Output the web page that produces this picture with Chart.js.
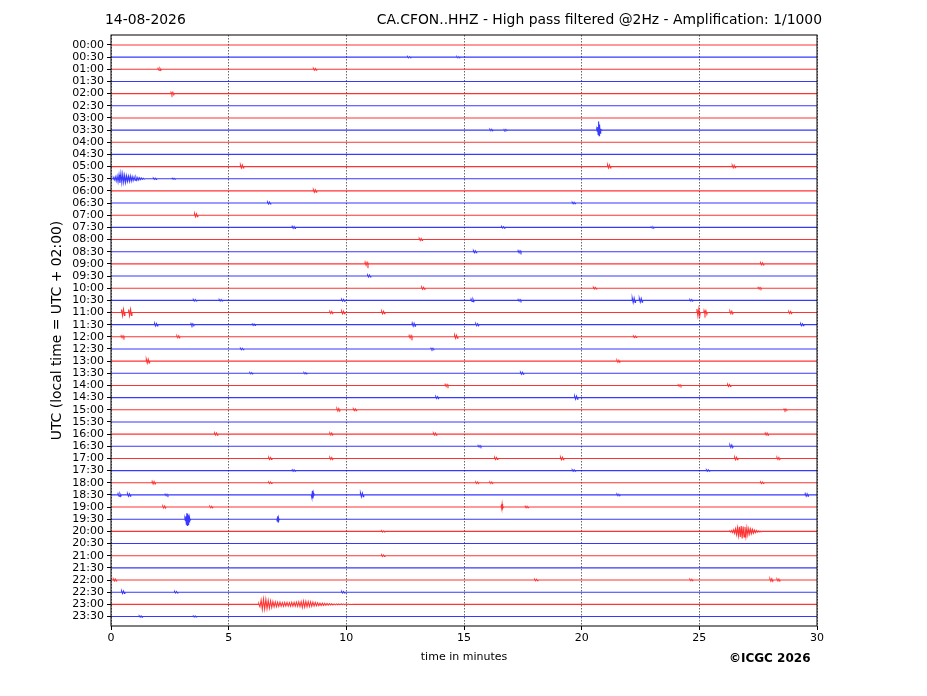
<!DOCTYPE html>
<html>
<head>
<meta charset="utf-8">
<script src="https://cdn.jsdelivr.net/npm/chart.js@4.4.1/dist/chart.umd.min.js"></script>
<style>
  body { margin: 0; background: #fff; }
  #wrap { width: 927px; height: 696px; }
</style>
</head>
<body>
<div id="wrap"><canvas id="heli" width="927" height="696"></canvas></div>
<script>
// etiquetas de filas (cada traza = 30 min)
const timeLabels = [
  '00:00','00:30','01:00','01:30','02:00','02:30','03:00','03:30','04:00','04:30',
  '05:00','05:30','06:00','06:30','07:00','07:30','08:00','08:30','09:00','09:30',
  '10:00','10:30','11:00','11:30','12:00','12:30','13:00','13:30','14:00','14:30',
  '15:00','15:30','16:00','16:30','17:00','17:30','18:00','18:30','19:00','19:30',
  '20:00','20:30','21:00','21:30','22:00','22:30','23:00','23:30'
];
const minuteTicks = [0, 5, 10, 15, 20, 25, 30];

// eventos grandes: fila, minuto inicial, paso (min), desplazamientos (en filas, + = arriba)
const quake0530 = [11, 0.1, 0.04, [0.08,-0.1,0.15,-0.18,0.22,-0.25,0.32,-0.35,0.42,-0.32,0.38,-0.3,0.28,-0.3,0.24,-0.22,0.2,-0.2,0.22,-0.18,0.17,-0.15,0.14,-0.12,0.12,-0.12,0.1,-0.1,0.08,-0.07,0.06,-0.05,0.04,-0.03]];
const spike0330 = [7, 20.64, 0.02, [0.05,-0.1,0.25,-0.35,0.7,-0.47,0.45,-0.25,0.12,-0.06,0.03]];
const spike1930a = [39, 3.14, 0.02, [0.05,-0.12,0.25,-0.4,0.5,-0.52,0.46,-0.42,0.32,-0.22,0.12,-0.05]];
const spike1930b = [39, 7.04, 0.02, [0.06,-0.15,0.25,-0.22,0.1,-0.04]];
const spike1830 = [37, 8.52, 0.02, [0.06,-0.18,0.33,-0.3,0.15,-0.05]];
const spike1900 = [38, 16.58, 0.02, [0.08,-0.1,0.26,-0.08,0.04]];
const quake2000 = [40, 26.3, 0.04, [0.03,-0.05,0.08,-0.1,0.12,-0.15,0.2,-0.25,0.3,-0.35,0.38,-0.45,0.44,-0.58,0.4,-0.45,0.36,-0.4,0.3,-0.28,0.22,-0.2,0.18,-0.17,0.15,-0.14,0.1,-0.1,0.08,-0.06,0.05,-0.04,0.03,-0.02]];
const quake2300 = [46, 6.28, 0.05, [
  0.05,-0.2,0.35,-0.4,0.42,-0.38,0.4,-0.35,0.32,-0.3,0.28,-0.25,
  0.22,-0.2,0.2,-0.18,0.17,-0.16,0.18,-0.15,0.14,-0.15,0.15,-0.13,0.16,-0.14,0.14,-0.15,0.16,-0.14,
  0.17,-0.15,0.18,-0.16,0.2,-0.18,0.22,-0.25,0.26,-0.22,0.25,-0.2,0.22,-0.18,0.2,-0.16,0.18,-0.14,0.15,-0.12,
  0.12,-0.1,0.1,-0.1,0.09,-0.08,0.08,-0.07,0.07,-0.06,0.06,-0.05,0.05,-0.05,0.04,-0.04,0.04,-0.03,0.03,-0.03,
  0.03,-0.02,0.02,-0.02,0.02,-0.02,0.02,-0.01,0.01,-0.01]];
const bigEvents = [quake0530, spike0330, spike1930a, spike1930b, spike1830, spike1900, quake2000, quake2300];

// pequeños impulsos: [fila, minuto, amplitud]
const smallBumps = [
  [1,12.6,0.05],[1,14.7,0.05],[2,2.0,0.08],[2,8.6,0.07],[4,2.55,0.1],[7,16.1,0.06],[7,16.7,0.05],
  [10,5.5,0.12],[10,21.1,0.12],[10,26.4,0.1],[11,1.8,0.05],[11,2.6,0.04],[12,8.6,0.1],[13,6.65,0.08],[13,19.6,0.06],
  [14,3.55,0.12],[15,7.7,0.08],[15,16.6,0.06],[15,22.95,0.05],[16,13.1,0.08],[17,15.4,0.08],[17,17.3,0.08],
  [18,10.8,0.12],[18,27.6,0.08],[19,10.9,0.08],[20,13.2,0.08],[20,20.5,0.06],[20,27.5,0.06],
  [21,3.5,0.06],[21,4.6,0.06],[21,9.8,0.07],[21,15.3,0.1],[21,17.3,0.06],[21,22.15,0.18],[21,22.45,0.15],[21,24.6,0.06],
  [22,0.45,0.25],[22,0.75,0.25],[22,9.3,0.08],[22,9.8,0.1],[22,11.5,0.1],[22,24.9,0.28],[22,25.2,0.15],[22,26.3,0.1],[22,28.8,0.08],
  [23,1.85,0.1],[23,3.4,0.08],[23,6.0,0.06],[23,12.8,0.12],[23,15.5,0.08],[23,29.3,0.08],
  [24,0.43,0.08],[24,2.8,0.08],[24,12.67,0.1],[24,14.6,0.12],[24,22.2,0.06],[25,5.5,0.06],[25,13.6,0.06],
  [26,1.5,0.15],[26,21.5,0.08],[27,5.9,0.05],[27,8.2,0.05],[27,17.4,0.08],[28,14.2,0.08],[28,24.1,0.06],[28,26.2,0.08],
  [29,13.8,0.08],[29,19.7,0.12],[30,9.6,0.1],[30,10.3,0.07],[30,28.6,0.06],[32,4.4,0.08],[32,9.3,0.08],[32,13.7,0.08],[32,27.8,0.08],
  [33,15.6,0.06],[33,26.3,0.1],[34,6.7,0.08],[34,9.3,0.08],[34,16.3,0.08],[34,19.1,0.1],[34,26.5,0.1],[34,28.3,0.08],
  [35,7.7,0.06],[35,19.6,0.06],[35,25.3,0.06],[36,1.75,0.1],[36,6.7,0.06],[36,15.5,0.06],[36,16.1,0.06],[36,27.6,0.06],
  [37,0.3,0.1],[37,0.7,0.1],[37,2.3,0.06],[37,10.6,0.15],[37,21.5,0.06],[37,29.5,0.1],[38,2.2,0.08],[38,4.2,0.06],[38,17.6,0.06],
  [40,11.5,0.05],[42,11.5,0.06],[44,0.1,0.08],[44,18.0,0.06],[44,24.6,0.06],[44,28.0,0.1],[44,28.3,0.08],
  [45,0.45,0.1],[45,2.7,0.06],[45,9.8,0.06],[47,1.2,0.05],[47,3.5,0.04]
];

// construir las trazas: cada evento parte y vuelve a la línea base
const datasets = timeLabels.map((lab, row) => {
  const pts = [{x: 0, y: row}, {x: 30, y: row}];
  bigEvents.filter(e => e[0] === row).forEach(e => {
    pts.push({x: e[1] - 0.01, y: row});
    e[3].forEach((v, i) => pts.push({x: e[1] + i * e[2], y: row - v}));
    pts.push({x: e[1] + e[3].length * e[2], y: row});
  });
  smallBumps.filter(b => b[0] === row).forEach(b => {
    pts.push({x: b[1] - 0.01, y: row});
    pts.push({x: b[1], y: row - b[2]});
    pts.push({x: b[1] + 0.04, y: row + b[2]});
    pts.push({x: b[1] + 0.08, y: row - b[2]});
    pts.push({x: b[1] + 0.12, y: row + b[2]});
    pts.push({x: b[1] + 0.14, y: row});
  });
  pts.sort((a, b) => a.x - b.x);
  return {
    label: lab,
    data: pts,
    borderColor: row % 2 === 0 ? 'rgba(255,0,0,0.8)' : 'rgba(0,0,255,0.78)',
    borderWidth: 1.1,
    pointRadius: 0,
    tension: 0
  };
});

const FONT = "'DejaVu Sans', sans-serif";

const textos = {
  id: 'textos',
  afterDraw(chart) {
    const c = chart.ctx, a = chart.chartArea;
    c.save();
    // marco
    c.strokeStyle = '#000';
    c.lineWidth = 1;
    c.strokeRect(a.left, a.top, a.right - a.left, a.bottom - a.top);
    c.fillStyle = '#000';
    c.textBaseline = 'middle';
    c.font = '13.9px ' + FONT;
    c.textAlign = 'left';
    c.fillText('14-08-2026', 105, 20);
    c.textAlign = 'right';
    c.fillText('CA.CFON..HHZ - High pass filtered @2Hz - Amplification: 1/1000', 822, 20);
    c.textAlign = 'center';
    c.font = '11px ' + FONT;
    c.fillText('time in minutes', (a.left + a.right) / 2, 657);
    c.font = 'bold 12px ' + FONT;
    c.textAlign = 'left';
    c.fillText('\u00A9ICGC 2026', 729, 659);
    c.translate(57, (a.top + a.bottom) / 2);
    c.rotate(-Math.PI / 2);
    c.textAlign = 'center';
    c.font = '13.9px ' + FONT;
    c.fillText('UTC (local time = UTC + 02:00)', 0, 0);
    c.restore();
  }
};

new Chart(document.getElementById('heli').getContext('2d'), {
  type: 'line',
  data: { datasets: datasets },
  options: {
    responsive: false,
    animation: false,
    parsing: false,
    normalized: true,
    layout: { padding: { left: 0, top: 35, right: 110, bottom: 0 } },
    plugins: { legend: { display: false }, tooltip: { enabled: false } },
    scales: {
      x: {
        type: 'linear',
        min: 0,
        max: 30,
        afterBuildTicks: s => { s.ticks = minuteTicks.map(v => ({value: v})); },
        afterFit: s => { s.height = 70; },
        ticks: { color: '#000', font: { family: FONT, size: 11 }, padding: 2, maxRotation: 0 },
        grid: {
          color: 'rgba(0,0,0,0.75)',
          lineWidth: 0.8,
          tickBorderDash: [],
          tickColor: '#000',
          tickWidth: 1,
          tickLength: 4
        },
        border: { display: false, dash: [1.5, 1.5] }
      },
      y: {
        type: 'linear',
        reverse: true,
        min: -0.82,
        max: 47.78,
        afterBuildTicks: s => { s.ticks = timeLabels.map((t, i) => ({value: i})); },
        afterFit: s => { s.width = 111; },
        ticks: {
          autoSkip: false,
          color: '#000',
          font: { family: FONT, size: 11 },
          padding: 3,
          callback: v => timeLabels[v]
        },
        grid: { drawOnChartArea: false, tickColor: '#000', tickLength: 4, tickWidth: 1 },
        border: { display: false }
      }
    }
  },
  plugins: [textos]
});
</script>
</body>
</html>
